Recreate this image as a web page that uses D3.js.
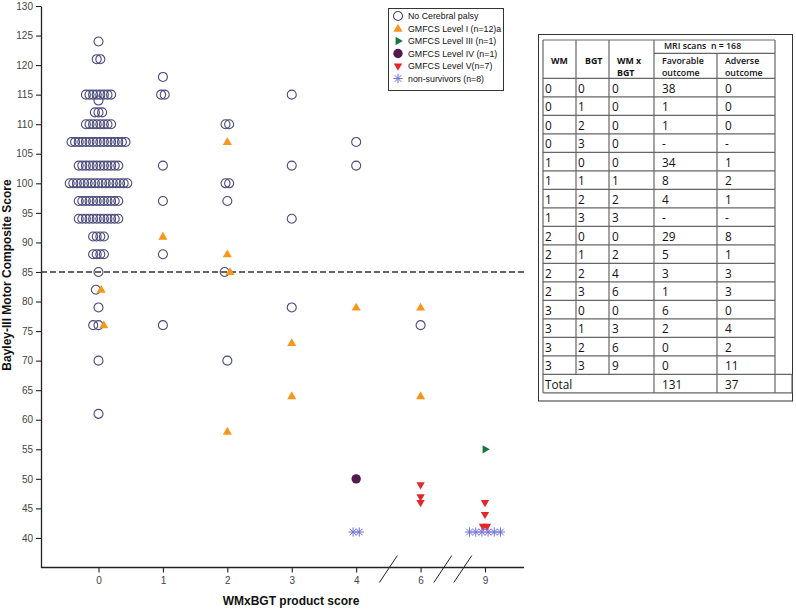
<!DOCTYPE html>
<html>
<head>
<meta charset="utf-8">
<script src="https://cdn.jsdelivr.net/npm/d3@7"></script>
<style>
  html, body { margin: 0; padding: 0; background: #fff; }
  svg { display: block; font-family: "Liberation Sans", Arial, sans-serif; }
</style>
</head>
<body>
<svg id="chart" width="796" height="610"></svg>
<script>
// ---------------- DATA ----------------
const categories = ["0", "1", "2", "3", "4", "6", "9"];
const yTicks = [40, 45, 50, 55, 60, 65, 70, 75, 80, 85, 90, 95, 100, 105, 110, 115, 120, 125, 130];
const cutoff = 85;

// Bayley-III motor scores per WMxBGT product score
const noCerebralPalsy = {
  "0": [124, 121, 121,
        115, 115, 115, 115, 115, 115, 115, 115,
        114,
        112, 112, 112,
        110, 110, 110, 110, 110, 110, 110, 110,
        107, 107, 107, 107, 107, 107, 107, 107, 107, 107, 107, 107, 107, 107, 107, 107,
        103, 103, 103, 103, 103, 103, 103, 103, 103, 103, 103, 103,
        100, 100, 100, 100, 100, 100, 100, 100, 100, 100, 100, 100, 100, 100, 100, 100, 100,
        97, 97, 97, 97, 97, 97, 97, 97, 97, 97, 97, 97,
        94, 94, 94, 94, 94, 94, 94, 94, 94, 94, 94, 94,
        91, 91, 91, 91,
        88, 88, 88, 88,
        85, 82, 79, 76, 76, 70, 61],
  "1": [118, 115, 115, 103, 97, 88, 76],
  "2": [110, 110, 100, 100, 97, 85, 70],
  "3": [115, 103, 94, 79],
  "4": [107, 103],
  "6": [76]
};
const gmfcs1 = { "0": [82, 76], "1": [91], "2": [107, 88, 85, 58], "3": [73, 64], "4": [79], "6": [79, 64] };
const gmfcs3 = { "9": [55] };
const gmfcs4 = { "4": [50] };
const gmfcs5 = { "6": [49, 47, 46], "9": [46, 44, 42, 42] };
const nonSurvivors = { "4": [41, 41], "9": [41, 41, 41, 41, 41, 41] };

const legendLabels = ["No Cerebral palsy", "GMFCS Level I (n=12)a", "GMFCS Level III (n=1)",
                      "GMFCS Level IV (n=1)", "GMFCS Level V(n=7)", "non-survivors (n=8)"];

// Table
const tableWM       = ["0","0","0","0","1","1","1","1","2","2","2","2","3","3","3","3"];
const tableBGT      = ["0","1","2","3","0","1","2","3","0","1","2","3","0","1","2","3"];
const tableWMxBGT   = ["0","0","0","0","0","1","2","3","0","2","4","6","0","3","6","9"];
const tableFavor    = ["38","1","1","-","34","8","4","-","29","5","3","1","6","2","0","0"];
const tableAdverse  = ["0","0","0","-","1","2","1","-","8","1","3","3","0","4","2","11"];
const tableTotal    = ["Total", "131", "37"];
const tableHeaderTop = "MRI scans\u00a0\u00a0n = 168";

// ---------------- STYLE / LAYOUT ----------------
const svg = d3.select("#chart");
const axisX0 = 41, axisX1 = 524;
const y = d3.scaleLinear().domain([35, 130]).range([567.5, 6]);
const x = d3.scalePoint().domain(categories).range([98.5, 485]);

const series = [
  { key: "ncp",  data: noCerebralPalsy, type: "circleOpen" },
  { key: "g1",   data: gmfcs1,          type: "triUp" },
  { key: "g3",   data: gmfcs3,          type: "triRight" },
  { key: "g4",   data: gmfcs4,          type: "circleFill" },
  { key: "g5",   data: gmfcs5,          type: "triDown" },
  { key: "ns",   data: nonSurvivors,    type: "star" }
];
const colors = { circleOpen: "#4a4a7c", triUp: "#f7961c", triRight: "#17753a",
                 circleFill: "#531a52", triDown: "#e3262a", star: "#6d6fd8" };

function starPath(r) {
  const d = r * 0.72;
  return `M0,${-r}L0,${r}M${-r},0L${r},0M${-d},${-d}L${d},${d}M${-d},${d}L${d},${-d}`;
}
function drawSymbol(g, type) {
  const c = colors[type];
  if (type === "circleOpen") {
    g.append("circle").attr("r", 4.5).attr("fill", "none").attr("stroke", c).attr("stroke-width", 1.1);
  } else if (type === "circleFill") {
    g.append("circle").attr("r", 4.7).attr("fill", c);
  } else if (type === "triUp") {
    g.append("path").attr("d", d3.symbol().type(d3.symbolTriangle).size(36)()).attr("fill", c)
      .attr("transform", "translate(0,0.5)");
  } else if (type === "triDown") {
    g.append("path").attr("d", d3.symbol().type(d3.symbolTriangle).size(30)()).attr("fill", c)
      .attr("transform", "rotate(180)");
  } else if (type === "triRight") {
    g.append("path").attr("d", d3.symbol().type(d3.symbolTriangle).size(30)()).attr("fill", c)
      .attr("transform", "rotate(90)");
  } else if (type === "star") {
    g.append("path").attr("d", starPath(4.6)).attr("fill", "none").attr("stroke", c).attr("stroke-width", 1);
  }
}

// ---------------- AXES ----------------
const yAxis = d3.axisLeft(y).tickValues(yTicks).tickSize(5).tickSizeOuter(0).tickPadding(3);
const gy = svg.append("g").attr("transform", `translate(${axisX0},0)`).call(yAxis);
gy.select(".domain").attr("stroke", "#222").attr("stroke-width", 1.3);
gy.selectAll(".tick line").attr("stroke", "#222").attr("stroke-width", 1.1);
gy.selectAll(".tick text").attr("font-size", 10).attr("fill", "#444")
  .attr("font-family", "'Liberation Sans', Arial, sans-serif");

const xAxis = d3.axisBottom(x).tickSize(5).tickSizeOuter(0).tickPadding(4);
const gx = svg.append("g").attr("transform", `translate(0,${y(35)})`).call(xAxis);
gx.select(".domain").remove();
gx.selectAll(".tick line").attr("stroke", "#222").attr("stroke-width", 1.1);
gx.selectAll(".tick text").attr("font-size", 10).attr("fill", "#444")
  .attr("font-family", "'Liberation Sans', Arial, sans-serif");
svg.append("line").attr("x1", axisX0).attr("x2", axisX1).attr("y1", y(35)).attr("y2", y(35))
  .attr("stroke", "#222").attr("stroke-width", 1.3);

// axis break marks
const mid46 = (x("4") + x("6")) / 2, mid69 = (x("6") + x("9")) / 2;
[mid46, mid69 - 10, mid69 + 10].forEach(cx => {
  svg.append("line").attr("x1", cx - 9).attr("y1", y(35) + 15).attr("x2", cx + 9).attr("y2", y(35) - 12)
    .attr("stroke", "#222").attr("stroke-width", 1);
});

// axis titles
svg.append("text").attr("x", 291).attr("y", 605).attr("text-anchor", "middle")
  .attr("font-size", 12).attr("font-weight", "bold").attr("fill", "#111").text("WMxBGT product score");
svg.append("text").attr("transform", "translate(10.5,275) rotate(-90)").attr("text-anchor", "middle")
  .attr("font-size", 12).attr("font-weight", "bold").attr("fill", "#111").text("Bayley-III Motor Composite Score");

// reference line
svg.append("line").attr("x1", axisX0).attr("x2", 525).attr("y1", y(cutoff)).attr("y2", y(cutoff))
  .attr("stroke", "#333").attr("stroke-width", 1.6).attr("stroke-dasharray", "6,3");

// ---------------- POINTS ----------------
const pts = [];
series.forEach((s, si) => {
  Object.keys(s.data).forEach(cat => {
    s.data[cat].forEach(v => pts.push({ cat, v, type: s.type, si }));
  });
});
const groups = d3.group(pts, d => d.cat + "|" + d.v);
groups.forEach(arr => {
  arr.sort((a, b) => a.si - b.si);
  const types = new Set(arr.map(d => d.type));
  let sp = 3.6;
  if (types.has("star")) sp = 6.2;
  else if (types.size > 1) sp = 5.3;
  else if (types.has("triDown")) sp = 4;
  arr.forEach((d, i) => { d.dx = (i - (arr.length - 1) / 2) * sp; });
});
const gp = svg.append("g");
pts.forEach(d => {
  const g = gp.append("g").attr("transform", `translate(${x(d.cat) + d.dx},${y(d.v)})`);
  drawSymbol(g, d.type);
});

// ---------------- LEGEND ----------------
const lg = svg.append("g");
lg.append("rect").attr("x", 388.5).attr("y", 8.5).attr("width", 115).attr("height", 82)
  .attr("fill", "#fff").attr("stroke", "#333").attr("stroke-width", 1);
legendLabels.forEach((t, i) => {
  const yy = 16 + i * 12.5;
  const g = lg.append("g").attr("transform", `translate(398,${yy})`);
  drawSymbol(g, series[i].type);
  lg.append("text").attr("x", 408).attr("y", yy + 3).attr("font-size", 8.8).attr("fill", "#111")
    .text(t);
});

// ---------------- TABLE ----------------
const tb = svg.append("g").attr("font-family", "'Open Sans', 'Liberation Sans', sans-serif");
const colX = [543, 576, 609, 654, 717, 775];
const tTop = 40, tMid = 53.3, tHead = 78.3, rowH = 18.5;
const nRows = tableWM.length;
const tDataEnd = tHead + nRows * rowH, tEnd = tDataEnd + rowH;
const lineC = "#666";
function hl(x1, x2, yy) { tb.append("line").attr("x1", x1).attr("x2", x2).attr("y1", yy).attr("y2", yy).attr("stroke", lineC).attr("stroke-width", 1.2); }
function vl(xx, y1, y2) { tb.append("line").attr("x1", xx).attr("x2", xx).attr("y1", y1).attr("y2", y2).attr("stroke", lineC).attr("stroke-width", 1.2); }

tb.append("rect").attr("x", 538.5).attr("y", 34.5).attr("width", 254).attr("height", 366.5)
  .attr("fill", "none").attr("stroke", "#333").attr("stroke-width", 1);

hl(colX[0], colX[5], tTop);
hl(colX[3], colX[5], tMid);
hl(colX[0], colX[5], tHead);
for (let i = 1; i < nRows; i++) hl(colX[0], colX[5], tHead + i * rowH);
hl(colX[0], 792, tDataEnd);
hl(colX[0], 792, tEnd);
vl(colX[0], tTop, tEnd);
vl(colX[1], tTop, tDataEnd);
vl(colX[2], tTop, tDataEnd);
vl(colX[3], tTop, tEnd);
vl(colX[4], tMid, tEnd);
vl(colX[5], tTop, tEnd);
vl(792, tDataEnd, tEnd);

// header text
const hs = 8.8;
function ht(xx, yy, t, w) { tb.append("text").attr("x", xx).attr("y", yy).attr("font-size", hs).attr("font-weight", w || "bold").attr("fill", "#111").text(t); }
ht(664, 48.5, tableHeaderTop, 600);
ht(551, 63.5, "WM");
ht(585, 63.5, "BGT");
ht(617, 63.5, "WM x");
ht(617, 76, "BGT");
ht(662, 63.5, "Favorable", 600);
ht(662, 76, "outcome", 600);
ht(725, 63.5, "Adverse", 600);
ht(725, 76, "outcome", 600);

// body
const dataX = [545, 578, 612, 662, 725];
const cols = [tableWM, tableBGT, tableWMxBGT, tableFavor, tableAdverse];
for (let r = 0; r < nRows; r++) {
  const yy = tHead + (r + 1) * rowH - 4;
  cols.forEach((c, ci) => {
    tb.append("text").attr("x", dataX[ci]).attr("y", yy).attr("font-size", 11.8).attr("fill", "#111").text(c[r]);
  });
}
const ty = tEnd - 4;
tb.append("text").attr("x", 545).attr("y", ty).attr("font-size", 11.8).attr("fill", "#111").text(tableTotal[0]);
tb.append("text").attr("x", dataX[3]).attr("y", ty).attr("font-size", 11.8).attr("fill", "#111").text(tableTotal[1]);
tb.append("text").attr("x", dataX[4]).attr("y", ty).attr("font-size", 11.8).attr("fill", "#111").text(tableTotal[2]);
</script>
</body>
</html>
